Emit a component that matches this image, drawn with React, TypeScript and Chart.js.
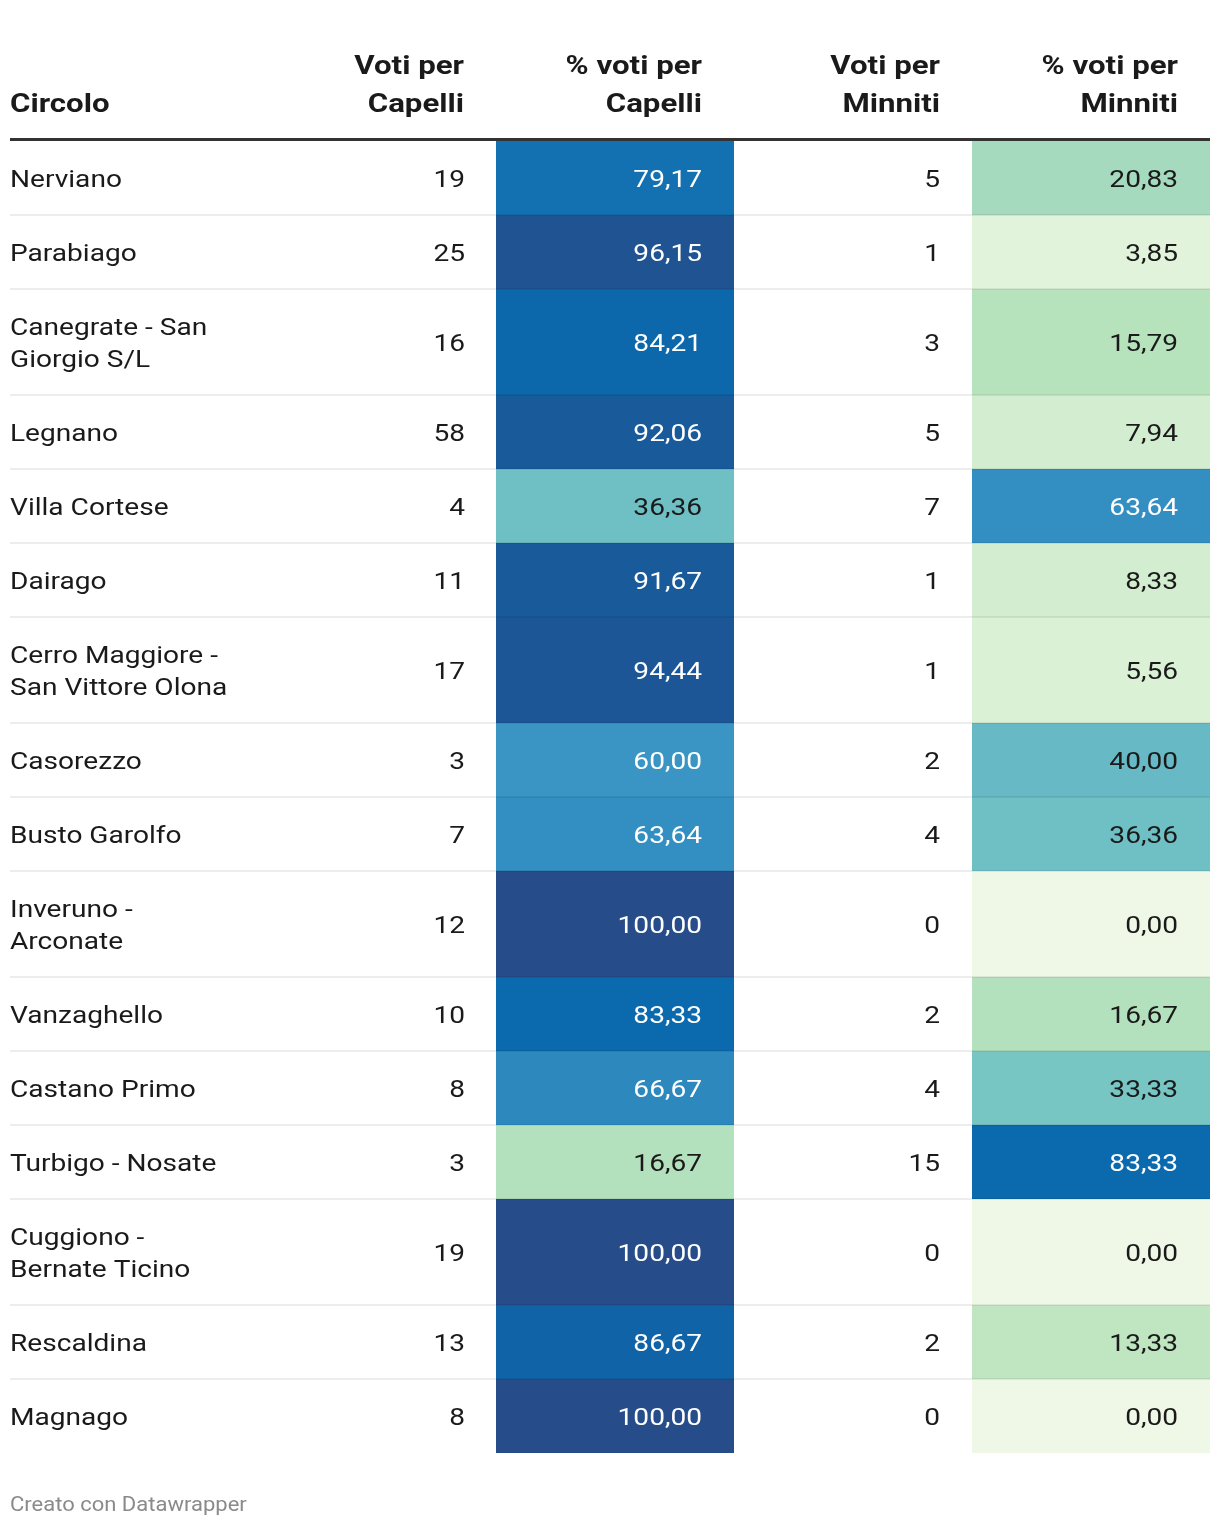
import React, { useEffect, useRef } from "react";
import { Chart, registerables } from "chart.js";

Chart.register(...registerables);

// ---------- data ----------
const headers = ["Circolo", "Voti per\nCapelli", "% voti per\nCapelli", "Voti per\nMinniti", "% voti per\nMinniti"];
const circoli = [
  "Nerviano",
  "Parabiago",
  "Canegrate - San\nGiorgio S/L",
  "Legnano",
  "Villa Cortese",
  "Dairago",
  "Cerro Maggiore -\nSan Vittore Olona",
  "Casorezzo",
  "Busto Garolfo",
  "Inveruno -\nArconate",
  "Vanzaghello",
  "Castano Primo",
  "Turbigo - Nosate",
  "Cuggiono -\nBernate Ticino",
  "Rescaldina",
  "Magnago",
];
const votiCapelli = [19, 25, 16, 58, 4, 11, 17, 3, 7, 12, 10, 8, 3, 19, 13, 8];
const pctCapelli = [79.17, 96.15, 84.21, 92.06, 36.36, 91.67, 94.44, 60.0, 63.64, 100.0, 83.33, 66.67, 16.67, 100.0, 86.67, 100.0];
const votiMinniti = [5, 1, 3, 5, 7, 1, 1, 2, 4, 0, 2, 4, 15, 0, 2, 0];
const pctMinniti = [20.83, 3.85, 15.79, 7.94, 63.64, 8.33, 5.56, 40.0, 36.36, 0.0, 16.67, 33.33, 83.33, 0.0, 13.33, 0.0];
const footer = "Creato con Datawrapper";

// ---------- layout / style ----------
const W = 1220;
const H = 1528;
const colEdges = [10, 258, 496, 734, 972, 1210];
const cellPadRight = 32;
const headerBottom = 141;
const rowBase = 42;
const lineStep = 32;
const FONT = "Roboto, 'Noto Sans', sans-serif";
const textDark = "#1a1a1a";
const headStretch = 1.2;
const bodyStretch = 1.17;
const footStretch = 1.1;

const colorStops: [number, string][] = [
  [0, "#eff8e6"],
  [15, "#bae4bc"],
  [35, "#72c3c5"],
  [60, "#3a95c5"],
  [83.33, "#0b69ad"],
  [100, "#264c8a"],
];

function hexToRgb(h: string) {
  const n = parseInt(h.slice(1), 16);
  return [(n >> 16) & 255, (n >> 8) & 255, n & 255];
}
function colorFor(v: number) {
  for (let i = 0; i < colorStops.length - 1; i++) {
    const [a, ca] = colorStops[i];
    const [b, cb] = colorStops[i + 1];
    if (v <= b || i === colorStops.length - 2) {
      const t = Math.max(0, Math.min(1, (v - a) / (b - a)));
      const x = hexToRgb(ca);
      const y = hexToRgb(cb);
      const r = x.map((c, k) => Math.round(c + (y[k] - c) * t));
      return `rgb(${r[0]},${r[1]},${r[2]})`;
    }
  }
  return colorStops[0][1];
}
const fmtPct = (v: number) => v.toFixed(2).replace(".", ",");

// row geometry derived from the number of text lines in each name
const rowLines = circoli.map((c) => c.split("\n").length);
const rowTops: number[] = [];
const rowBottoms: number[] = [];
{
  let y = headerBottom;
  rowLines.forEach((n) => {
    rowTops.push(y);
    y += rowBase + lineStep * n;
    rowBottoms.push(y);
  });
}

function drawText(ctx: CanvasRenderingContext2D, text: string, x: number, y: number, align: "left" | "right", sx: number) {
  const w = ctx.measureText(text).width * sx;
  const left = align === "left" ? x : x - w;
  ctx.save();
  ctx.translate(left, y);
  ctx.scale(sx, 1);
  ctx.textAlign = "left";
  ctx.fillText(text, 0, 0);
  ctx.restore();
}

const tablePlugin = {
  id: "tableText",
  afterDraw(chart: any) {
    const ctx = chart.ctx as CanvasRenderingContext2D;
    const xs = chart.scales.x;
    const ys = chart.scales.y;
    const px = (v: number) => xs.getPixelForValue(v);
    const py = (v: number) => ys.getPixelForValue(v);
    ctx.save();
    ctx.textBaseline = "alphabetic";

    // header
    ctx.fillStyle = textDark;
    ctx.font = `700 26px ${FONT}`;
    headers.forEach((h, ci) => {
      const lines = h.split("\n");
      const baseLast = 112;
      lines.forEach((ln, li) => {
        const yb = baseLast - (lines.length - 1 - li) * 38;
        if (ci === 0) drawText(ctx, ln, px(colEdges[0]), py(yb), "left", headStretch);
        else drawText(ctx, ln, px(colEdges[ci + 1] - cellPadRight), py(yb), "right", headStretch);
      });
    });
    // header rule
    ctx.fillStyle = "#333333";
    ctx.fillRect(px(colEdges[0]), py(headerBottom - 3), px(colEdges[5]) - px(colEdges[0]), 3);

    // separators
    ctx.fillStyle = "rgba(0,0,0,0.07)";
    rowBottoms.forEach((b, i) => {
      if (i === rowBottoms.length - 1) return;
      ctx.fillRect(px(colEdges[0]), py(b - 1), px(colEdges[5]) - px(colEdges[0]), 2);
    });

    // body
    ctx.font = `400 24px ${FONT}`;
    circoli.forEach((name, i) => {
      const c = (rowTops[i] + rowBottoms[i]) / 2;
      const lines = name.split("\n");
      ctx.fillStyle = textDark;
      lines.forEach((ln, li) => {
        const yb = c + (li - (lines.length - 1) / 2) * lineStep + 9;
        drawText(ctx, ln, px(colEdges[0]), py(yb), "left", bodyStretch);
      });
      const yb = py(c + 9);
      ctx.fillStyle = textDark;
      drawText(ctx, String(votiCapelli[i]), px(colEdges[2] - 31), yb, "right", bodyStretch);
      ctx.fillStyle = pctCapelli[i] > 50 ? "#ffffff" : textDark;
      drawText(ctx, fmtPct(pctCapelli[i]), px(colEdges[3] - cellPadRight), yb, "right", bodyStretch);
      ctx.fillStyle = textDark;
      drawText(ctx, String(votiMinniti[i]), px(colEdges[4] - cellPadRight), yb, "right", bodyStretch);
      ctx.fillStyle = pctMinniti[i] > 50 ? "#ffffff" : textDark;
      drawText(ctx, fmtPct(pctMinniti[i]), px(colEdges[5] - cellPadRight), yb, "right", bodyStretch);
    });

    // footer
    ctx.fillStyle = "#8a8a8a";
    ctx.font = `400 20px ${FONT}`;
    drawText(ctx, footer, px(colEdges[0]), py(1511), "left", footStretch);
    ctx.restore();
  },
};

export default function App() {
  const ref = useRef<HTMLCanvasElement | null>(null);
  useEffect(() => {
    document.body.style.margin = "0";
    const canvas = ref.current;
    if (!canvas) return;
    const cellDataset = (values: number[], col: number) => ({
      data: values.map((_, i) => ({ x: (colEdges[col] + colEdges[col + 1]) / 2, y: [rowTops[i], rowBottoms[i]] })),
      backgroundColor: values.map(colorFor),
      barThickness: colEdges[col + 1] - colEdges[col],
      grouped: false,
      borderWidth: 0,
      inflateAmount: 0,
    });
    const chart = new Chart(canvas, {
      type: "bar",
      data: {
        datasets: [cellDataset(pctCapelli, 2), cellDataset(pctMinniti, 4)] as any,
      },
      options: {
        responsive: false,
        animation: false,
        devicePixelRatio: 1,
        layout: { padding: 0 },
        events: [],
        plugins: { legend: { display: false }, tooltip: { enabled: false } },
        scales: {
          x: { type: "linear", min: 0, max: W, display: false, offset: false },
          y: { type: "linear", min: 0, max: H, reverse: true, display: false },
        },
      } as any,
      plugins: [tablePlugin],
    });
    return () => chart.destroy();
  }, []);
  return <canvas ref={ref} width={W} height={H} style={{ display: "block", width: W, height: H }} />;
}
